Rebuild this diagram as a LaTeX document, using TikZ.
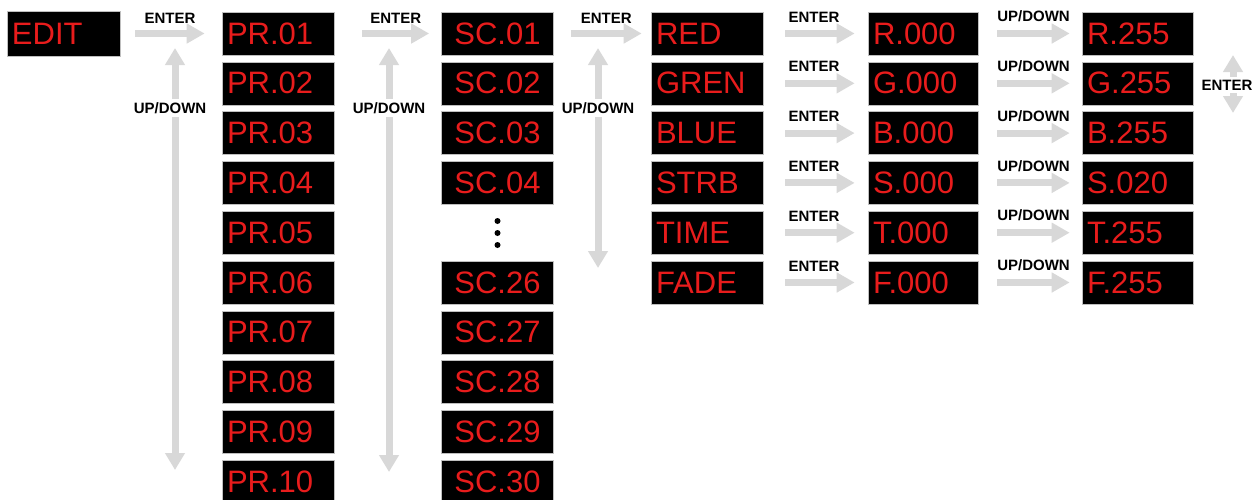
\documentclass[tikz,border=0pt]{standalone}
\usepackage{fontspec}
\setmainfont{Liberation Sans}
\usetikzlibrary{positioning,arrows.meta}

\definecolor{lcdred}{RGB}{232,28,28}
\definecolor{arrowgray}{RGB}{216,216,216}

\tikzset{
  lcd/.style={fill=black,draw=gray!50,line width=0.6pt,minimum height=43pt,
    text width=102pt,inner xsep=5pt,inner ysep=0pt,align=left,text=lcdred,
    font=\fontsize{31}{31}\selectfont},
  lcdc/.style={lcd,align=center},
  fwd/.style={draw=arrowgray,line width=7pt,-{Triangle[width=19pt,length=18pt]}},
  updown/.style={draw=arrowgray,line width=7pt,
    {Triangle[width=19pt,length=17pt]}-{Triangle[width=19pt,length=17pt]}},
  lbl/.style={font=\fontsize{15}{15}\selectfont\bfseries,inner sep=0pt},
}

\begin{document}
\begin{tikzpicture}[x=1pt,y=-1pt]
\useasboundingbox (0,0) rectangle (1260,499);

\node[lcd,text width=103pt,minimum height=45pt] (edit) at (63.5,33.5) {EDIT};

% programs
\node[lcd] (pr1) at (278,33.5) {PR.01};
\node[lcd] (pr2) at (278,83.3) {PR.02};
\node[lcd] (pr3) at (278,133.1) {PR.03};
\node[lcd] (pr4) at (278,182.9) {PR.04};
\node[lcd] (pr5) at (278,232.7) {PR.05};
\node[lcd] (pr6) at (278,282.5) {PR.06};
\node[lcd] (pr7) at (278,332.3) {PR.07};
\node[lcd] (pr8) at (278,382.1) {PR.08};
\node[lcd] (pr9) at (278,431.9) {PR.09};
\node[lcd] (pr10) at (278,481.7) {PR.10};

% scenes
\node[lcdc] (sc1) at (497.5,33.5) {SC.01};
\node[lcdc] (sc2) at (497.5,83.3) {SC.02};
\node[lcdc] (sc3) at (497.5,133.1) {SC.03};
\node[lcdc] (sc4) at (497.5,182.9) {SC.04};
\node[lcdc] (sc26) at (497.5,282.5) {SC.26};
\node[lcdc] (sc27) at (497.5,332.3) {SC.27};
\node[lcdc] (sc28) at (497.5,382.1) {SC.28};
\node[lcdc] (sc29) at (497.5,431.9) {SC.29};
\node[lcdc] (sc30) at (497.5,481.7) {SC.30};

\fill (497.5,221) circle (3pt);
\fill (497.5,233) circle (3pt);
\fill (497.5,245) circle (3pt);

% channels
\node[lcd] (red) at (707,33.5) {RED};
\node[lcd] (gren) at (707,83.3) {GREN};
\node[lcd] (blue) at (707,133.1) {BLUE};
\node[lcd] (strb) at (707,182.9) {STRB};
\node[lcd] (time) at (707,232.7) {TIME};
\node[lcd] (fade) at (707,282.5) {FADE};

\node[lcd,text width=100pt] (r0) at (923,33.5) {R.000};
\node[lcd,text width=100pt] (g0) at (923,83.3) {G.000};
\node[lcd,text width=100pt] (b0) at (923,133.1) {B.000};
\node[lcd,text width=100pt] (s0) at (923,182.9) {S.000};
\node[lcd,text width=100pt] (t0) at (923,232.7) {T.000};
\node[lcd,text width=100pt] (f0) at (923,282.5) {F.000};

\node[lcd,text width=101pt] (rmax) at (1137.5,33.5) {R.255};
\node[lcd,text width=101pt] (gmax) at (1137.5,83.3) {G.255};
\node[lcd,text width=101pt] (bmax) at (1137.5,133.1) {B.255};
\node[lcd,text width=101pt] (smax) at (1137.5,182.9) {S.020};
\node[lcd,text width=101pt] (tmax) at (1137.5,232.7) {T.255};
\node[lcd,text width=101pt] (fmax) at (1137.5,282.5) {F.255};

% enter arrows
\draw[fwd] ([xshift=15pt]edit.east) -- ([xshift=-17pt]pr1.west)
  node[lbl,midway,above=7pt] {ENTER};
\draw[fwd] ([xshift=28pt]pr1.east) -- ([xshift=-12pt]sc1.west)
  node[lbl,midway,above=7pt] {ENTER};
\draw[fwd] ([xshift=17pt]sc1.east) -- ([xshift=-9pt]red.west)
  node[lbl,midway,above=7pt] {ENTER};

\draw[fwd] ([xshift=22pt]red.east) -- ([xshift=-13pt]r0.west)
  node[lbl,midway,above=8pt,xshift=-6pt] {ENTER};
\draw[fwd] ([xshift=22pt]gren.east) -- ([xshift=-13pt]g0.west)
  node[lbl,midway,above=8pt,xshift=-6pt] {ENTER};
\draw[fwd] ([xshift=22pt]blue.east) -- ([xshift=-13pt]b0.west)
  node[lbl,midway,above=8pt,xshift=-6pt] {ENTER};
\draw[fwd] ([xshift=22pt]strb.east) -- ([xshift=-13pt]s0.west)
  node[lbl,midway,above=8pt,xshift=-6pt] {ENTER};
\draw[fwd] ([xshift=22pt]time.east) -- ([xshift=-13pt]t0.west)
  node[lbl,midway,above=8pt,xshift=-6pt] {ENTER};
\draw[fwd] ([xshift=22pt]fade.east) -- ([xshift=-13pt]f0.west)
  node[lbl,midway,above=8pt,xshift=-6pt] {ENTER};

% up/down arrows
\draw[fwd] ([xshift=19pt]r0.east) -- ([xshift=-12pt]rmax.west)
  node[lbl,midway,above=8pt] {UP/DOWN};
\draw[fwd] ([xshift=19pt]g0.east) -- ([xshift=-12pt]gmax.west)
  node[lbl,midway,above=8pt] {UP/DOWN};
\draw[fwd] ([xshift=19pt]b0.east) -- ([xshift=-12pt]bmax.west)
  node[lbl,midway,above=8pt] {UP/DOWN};
\draw[fwd] ([xshift=19pt]s0.east) -- ([xshift=-12pt]smax.west)
  node[lbl,midway,above=8pt] {UP/DOWN};
\draw[fwd] ([xshift=19pt]t0.east) -- ([xshift=-12pt]tmax.west)
  node[lbl,midway,above=8pt] {UP/DOWN};
\draw[fwd] ([xshift=19pt]f0.east) -- ([xshift=-12pt]fmax.west)
  node[lbl,midway,above=8pt] {UP/DOWN};

% scrolling
\coordinate (pru) at (175,48);
\coordinate (prd) at (175,470);
\coordinate (scu) at (389,48);
\coordinate (scd) at (389,472);
\coordinate (chu) at (598,48);
\coordinate (chd) at (598,268);
\coordinate (lastu) at (1233,55);
\coordinate (lastd) at (1233,113);

\draw[updown] (pru) -- (prd);
\draw[updown] (scu) -- (scd);
\draw[updown] (chu) -- (chd);
\draw[updown] (lastu) -- (lastd);

\node[lbl,fill=white,inner sep=3pt] (prlbl) at (170,108) {UP/DOWN};
\node[lbl,fill=white,inner sep=3pt] (sclbl) at (389,108) {UP/DOWN};
\node[lbl,fill=white,inner sep=3pt] (chlbl) at (598,108) {UP/DOWN};
\node[lbl,fill=white,inner sep=3pt] (lastlbl) at (1227,85) {ENTER};

\end{tikzpicture}
\end{document}
